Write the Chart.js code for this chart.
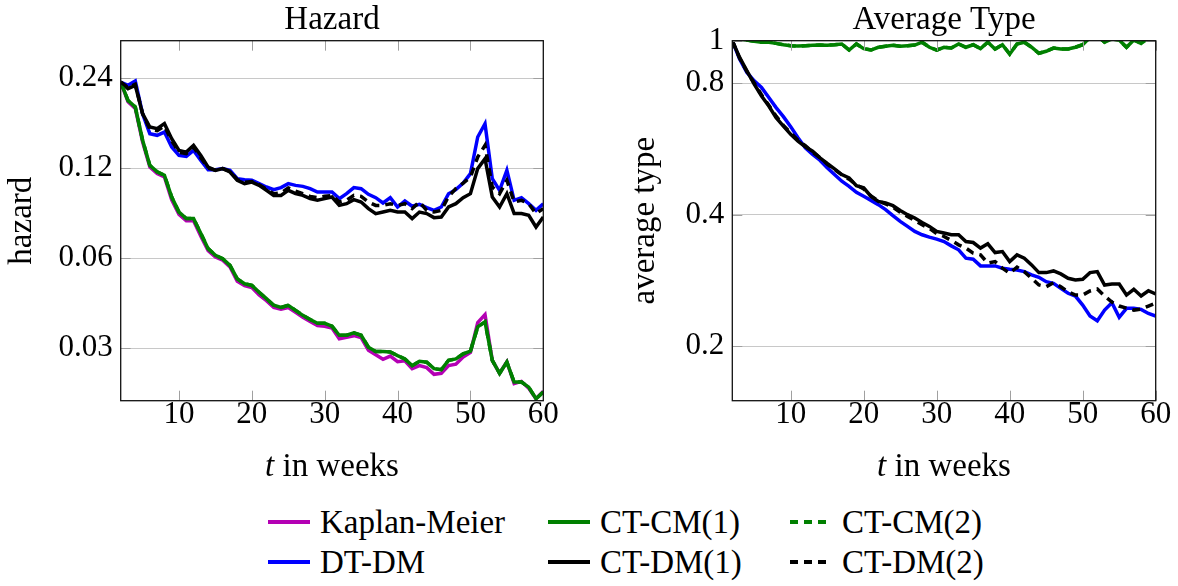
<!DOCTYPE html>
<html>
<head>
<meta charset="utf-8">
<script src="https://cdn.jsdelivr.net/npm/chart.js@4.4.1/dist/chart.umd.min.js"></script>
<style>
  body { margin: 0; background: #fff; }
  #wrap { position: relative; width: 1178px; height: 586px; font-family: 'Liberation Serif', 'DejaVu Serif', serif; color: #000; }
  #hazardChart { position: absolute; left: 0; top: 0; }
  #typeChart { position: absolute; left: 590px; top: 0; }
  #legend { position: absolute; left: 268px; top: 502px; display: grid;
            grid-template-columns: 280px 242px 210px; grid-auto-rows: 40px; font-size: 33px; }
  .item { display: flex; align-items: center; white-space: nowrap; }
  .item svg { margin-right: 10px; }
</style>
</head>
<body>
<div id="wrap">
  <canvas id="hazardChart" width="570" height="490"></canvas>
  <canvas id="typeChart" width="588" height="490"></canvas>
  <div id="legend"></div>
</div>
<script>
// weeks on the x axis
const weeks = [2,3,4,5,6,7,8,9,10,11,12,13,14,15,16,17,18,19,20,21,22,23,24,25,26,27,28,29,30,
  31,32,33,34,35,36,37,38,39,40,41,42,43,44,45,46,47,48,49,50,51,52,53,54,55,56,57,58,59,60];
const xTicks = [10, 20, 30, 40, 50, 60];

// Hazard panel (log scale)
const hazardTicks = [0.03, 0.06, 0.12, 0.24];
const hazardKM = [0.233,0.200,0.190,0.147,0.121,0.115,0.112,0.094,0.0840,0.0800,0.0800,0.0710,0.0635,0.0605,
  0.0590,0.0560,0.0502,0.0485,0.0478,0.0452,0.0432,0.0410,0.0405,0.0410,0.0395,0.0380,0.0368,0.0357,0.0355,
  0.0350,0.0322,0.0326,0.0330,0.0325,0.0295,0.0285,0.0275,0.0282,0.0270,0.0272,0.0256,0.0262,0.0258,0.0245,
  0.0247,0.0262,0.0265,0.0280,0.0290,0.0365,0.0388,0.0273,0.0247,0.0270,0.0228,0.0232,0.0220,0.0203,0.0215];
const hazardDTDM = [0.2327,0.2269,0.2345,0.1824,0.1564,0.1544,0.1583,0.1411,0.1323,0.1313,0.1375,0.1273,0.1185,
  0.1185,0.1195,0.1179,0.1106,0.1097,0.1092,0.1064,0.1037,0.1016,0.1032,0.1064,0.1050,0.1042,0.1024,0.0998,
  0.0998,0.0998,0.0948,0.0985,0.1032,0.1024,0.0980,0.0955,0.0917,0.0955,0.0889,0.0931,0.0894,0.0907,0.0885,
  0.0866,0.0889,0.0985,0.1016,0.1069,0.1149,0.1524,0.1689,0.1106,0.1011,0.1179,0.0936,0.0955,0.0912,0.0866,0.0912];
const hazardCTCM1 = [0.233,0.202,0.192,0.149,0.1225,0.1165,0.1135,0.096,0.0855,0.0813,0.0813,0.0725,0.0645,0.0613,
  0.0597,0.0567,0.0511,0.0492,0.0486,0.0461,0.0439,0.0417,0.0410,0.0417,0.0401,0.0386,0.0374,0.0363,0.0363,
  0.0355,0.0331,0.0331,0.0337,0.0331,0.0302,0.0292,0.0292,0.0291,0.0283,0.0276,0.0262,0.0271,0.0269,0.0256,
  0.0254,0.0273,0.0276,0.0287,0.0293,0.0353,0.0367,0.0273,0.0247,0.0269,0.0231,0.0231,0.0222,0.0203,0.0214];
const hazardCTCM2 = [0.233,0.202,0.192,0.149,0.1225,0.1165,0.1135,0.096,0.0855,0.0813,0.0813,0.0725,0.0645,0.0613,
  0.0597,0.0567,0.0511,0.0492,0.0486,0.0461,0.0439,0.0417,0.0410,0.0417,0.0401,0.0386,0.0374,0.0363,0.0363,
  0.0355,0.0331,0.0331,0.0337,0.0331,0.0302,0.0292,0.0292,0.0291,0.0283,0.0276,0.0262,0.0271,0.0269,0.0256,
  0.0254,0.0273,0.0276,0.0287,0.0293,0.0353,0.0367,0.0273,0.0247,0.0269,0.0231,0.0231,0.0222,0.0203,0.0214];
const hazardCTDM1 = [0.2327,0.2212,0.2269,0.1824,0.1646,0.1626,0.1689,0.1505,0.1375,0.1357,0.1429,0.1323,0.1209,
  0.1179,0.1195,0.1164,0.1092,0.1064,0.1077,0.1050,0.1011,0.0972,0.0972,0.1011,0.0985,0.0972,0.0948,0.0936,
  0.0948,0.0960,0.0900,0.0912,0.0941,0.0924,0.0878,0.0845,0.0855,0.0866,0.0855,0.0855,0.0813,0.0855,0.0845,
  0.0819,0.0823,0.0889,0.0912,0.0955,0.0985,0.1195,0.1290,0.0960,0.0889,0.0985,0.0845,0.0845,0.0834,0.0762,0.0823];
const hazardCTDM2 = [0.2327,0.2230,0.2290,0.1824,0.1620,0.1600,0.1660,0.1480,0.1355,0.1340,0.1410,0.1300,0.1200,
  0.1180,0.1195,0.1170,0.1098,0.1075,0.1082,0.1055,0.1020,0.0985,0.0990,0.1030,0.1005,0.0985,0.0965,0.0955,
  0.0965,0.0972,0.0924,0.0936,0.0972,0.0965,0.0924,0.0900,0.0900,0.0912,0.0900,0.0912,0.0878,0.0924,0.0866,
  0.0855,0.0866,0.0965,0.1024,0.1069,0.1120,0.1306,0.1429,0.1037,0.0985,0.1092,0.0924,0.0936,0.0912,0.0845,0.0878];

// Average type panel (log scale)
const typeTicks = [0.2, 0.4, 0.8, 1];
const typeDTDM = [1.0,0.9077,0.846,0.8093,0.7815,0.7412,0.703,0.6703,0.6358,0.5999,0.5689,0.5491,0.5328,0.5118,
  0.494,0.4768,0.4643,0.4498,0.4404,0.4311,0.4215,0.4105,0.3976,0.3858,0.3758,0.366,0.3596,0.3553,0.3515,
  0.3471,0.3392,0.3322,0.3179,0.3162,0.3052,0.3052,0.3052,0.3015,0.2999,0.2988,0.2962,0.291,0.2875,0.2809,
  0.2785,0.2712,0.2642,0.2604,0.2483,0.2343,0.2285,0.2418,0.2513,0.2327,0.244,0.244,0.2427,0.2376,0.2343];
const typeCTCM1 = [1.004,1.009,1.004,0.997,0.992,0.992,0.986,0.979,0.974,0.972,0.974,0.976,0.977,0.976,0.979,
  0.983,0.952,0.983,0.959,0.952,0.966,0.971,0.976,0.971,0.974,0.977,0.992,0.966,0.952,0.966,0.962,0.983,0.966,
  0.979,0.959,0.992,0.957,0.979,0.932,0.983,0.992,0.966,0.936,0.946,0.962,0.957,0.957,0.966,0.979,1.018,1.027,
  0.992,1.009,1.004,0.966,1.004,0.986,1.014,1.009];
const typeCTCM2 = [1.004,1.009,1.004,0.997,0.992,0.992,0.986,0.979,0.974,0.972,0.974,0.976,0.977,0.976,0.979,
  0.983,0.952,0.983,0.959,0.952,0.966,0.971,0.976,0.971,0.974,0.977,0.992,0.966,0.952,0.966,0.962,0.983,0.966,
  0.979,0.959,0.992,0.957,0.979,0.932,0.983,0.992,0.966,0.936,0.946,0.962,0.957,0.957,0.966,0.979,1.018,1.027,
  0.992,1.009,1.004,0.966,1.004,0.986,1.014,1.009];
const typeCTDM1 = [1.0,0.9159,0.8532,0.7953,0.7475,0.709,0.6668,0.6378,0.6104,0.5891,0.572,0.5588,0.5396,0.5236,
  0.5091,0.494,0.4854,0.466,0.4604,0.4404,0.4289,0.4253,0.4192,0.4089,0.3998,0.3928,0.3838,0.3758,0.366,
  0.3629,0.3596,0.3596,0.3471,0.3452,0.3352,0.3429,0.3275,0.3292,0.3122,0.3235,0.3179,0.3068,0.2946,0.2946,
  0.2972,0.2926,0.286,0.2834,0.2845,0.2946,0.2962,0.276,0.2775,0.2775,0.2618,0.2698,0.2604,0.2678,0.2632];
const typeCTDM2 = [1.0,0.912,0.850,0.800,0.752,0.712,0.672,0.640,0.615,0.592,0.575,0.556,0.540,0.522,0.507,
  0.493,0.482,0.468,0.458,0.441,0.430,0.423,0.416,0.405,0.396,0.388,0.379,0.372,0.362,
  0.3564,0.349,0.341,0.3352,0.3264,0.3235,0.3096,0.3122,0.3015,0.2936,0.3031,0.2962,0.286,0.276,0.2735,
  0.2794,0.2735,0.2664,0.2618,0.2618,0.2674,0.2702,0.2604,0.2522,0.247,0.2444,0.2418,0.2431,0.247,0.2509];

const FONT = "'Liberation Serif', 'DejaVu Serif', serif";
const MAGENTA = '#b400b4', BLUE = '#0000ff', GREEN = '#008000', BLACK = '#000000';

// series definitions (names, colours, dash) shared by both panels
const series = [
  { label: 'Kaplan-Meier', color: MAGENTA, dash: [] },
  { label: 'DT-DM', color: BLUE, dash: [] },
  { label: 'CT-CM(1)', color: GREEN, dash: [] },
  { label: 'CT-DM(1)', color: BLACK, dash: [] },
  { label: 'CT-CM(2)', color: GREEN, dash: [8, 6] },
  { label: 'CT-DM(2)', color: BLACK, dash: [8, 6] }
];

function makeDatasets(dataBySeries) {
  const out = [];
  series.forEach((s, i) => {
    const d = dataBySeries[s.label];
    if (!d) return;
    out.push({
      label: s.label,
      data: d,
      borderColor: s.color,
      borderDash: s.dash,
      borderWidth: 3.5,
      pointRadius: 0,
      tension: 0,
      fill: false,
      clip: 0,
      order: 10 - i // later series drawn on top
    });
  });
  return out;
}

// frame, inward tick marks and the x label with italic t
const framePlugin = {
  id: 'frame',
  afterDraw(chart) {
    const { ctx, chartArea: a, scales: { x, y } } = chart;
    ctx.save();
    ctx.strokeStyle = '#a0a0a0';
    ctx.lineWidth = 1;
    ctx.beginPath();
    x.ticks.forEach(t => {
      const px = Math.round(x.getPixelForValue(t.value)) + 0.5;
      ctx.moveTo(px, a.bottom); ctx.lineTo(px, a.bottom - 10);
      ctx.moveTo(px, a.top); ctx.lineTo(px, a.top + 10);
    });
    y.ticks.forEach(t => {
      const py = Math.round(y.getPixelForValue(t.value)) + 0.5;
      ctx.moveTo(a.left, py); ctx.lineTo(a.left + 10, py);
      ctx.moveTo(a.right, py); ctx.lineTo(a.right - 10, py);
    });
    ctx.stroke();
    ctx.strokeStyle = '#111';
    ctx.lineWidth = 1.3;
    ctx.strokeRect(a.left, a.top, a.right - a.left, a.bottom - a.top);

    const it = 'italic 33px ' + FONT, rm = '33px ' + FONT;
    ctx.fillStyle = '#000';
    ctx.textBaseline = 'alphabetic';
    ctx.font = it; const w1 = ctx.measureText('t').width;
    ctx.font = rm; const w2 = ctx.measureText(' in weeks').width;
    const x0 = (a.left + a.right) / 2 - (w1 + w2) / 2;
    ctx.font = it; ctx.fillText('t', x0, 476);
    ctx.font = rm; ctx.fillText(' in weeks', x0 + w1, 476);
    ctx.restore();
  }
};

function makeOptions(cfg) {
  return {
    responsive: false,
    animation: false,
    layout: { padding: { left: 0, right: cfg.padRight, top: 0, bottom: 0 } },
    plugins: {
      legend: { display: false },
      tooltip: { enabled: false },
      title: {
        display: true, text: cfg.title, fullSize: false, color: '#000',
        font: { family: FONT, size: 33, weight: 'normal' },
        padding: { top: 0.5, bottom: 0.6 }
      }
    },
    scales: {
      x: {
        type: 'linear', min: 2, max: 60,
        grid: { display: false, drawTicks: false },
        border: { display: false },
        afterBuildTicks: s => { s.ticks = xTicks.map(v => ({ value: v })); },
        afterFit: s => { s.height = 89.3; },
        ticks: { color: '#000', padding: -1, maxRotation: 0,
                 font: { family: FONT, size: 31, lineHeight: 1 } }
      },
      y: {
        type: 'logarithmic', min: cfg.yMin, max: cfg.yMax,
        grid: { color: '#c8c8c8', lineWidth: 1, drawTicks: false },
        border: { display: false },
        afterBuildTicks: s => { s.ticks = cfg.yTicks.map(v => ({ value: v })); },
        afterFit: s => { s.width = cfg.yWidth; },
        ticks: { color: '#000', padding: 8, callback: v => String(v),
                 font: { family: FONT, size: 31 } },
        title: { display: true, text: cfg.yTitle, color: '#000',
                 font: { family: FONT, size: 33 }, padding: { top: cfg.yTitlePad, bottom: 0 } }
      }
    }
  };
}

new Chart(document.getElementById('hazardChart'), {
  type: 'line',
  data: {
    labels: weeks,
    datasets: makeDatasets({
      'Kaplan-Meier': hazardKM, 'DT-DM': hazardDTDM, 'CT-CM(1)': hazardCTCM1,
      'CT-DM(1)': hazardCTDM1, 'CT-CM(2)': hazardCTCM2, 'CT-DM(2)': hazardCTDM2
    })
  },
  options: makeOptions({ title: 'Hazard', yMin: 0.02, yMax: 0.32, yTicks: hazardTicks,
                         yTitle: 'hazard', yTitlePad: 2.2, yWidth: 120.7, padRight: 26.7 }),
  plugins: [framePlugin]
});

new Chart(document.getElementById('typeChart'), {
  type: 'line',
  data: {
    labels: weeks,
    datasets: makeDatasets({
      'DT-DM': typeDTDM, 'CT-CM(1)': typeCTCM1, 'CT-DM(1)': typeCTDM1,
      'CT-CM(2)': typeCTCM2, 'CT-DM(2)': typeCTDM2
    })
  },
  options: makeOptions({ title: 'Average Type', yMin: 0.15, yMax: 1, yTicks: typeTicks,
                         yTitle: 'average type', yTitlePad: 35.2, yWidth: 142.3, padRight: 22.3 }),
  plugins: [framePlugin]
});

// legend: three columns, filled row by row
const legendOrder = ['Kaplan-Meier', 'CT-CM(1)', 'CT-CM(2)', 'DT-DM', 'CT-DM(1)', 'CT-DM(2)'];
const legendEl = document.getElementById('legend');
legendOrder.forEach(name => {
  const s = series.find(d => d.label === name);
  const item = document.createElement('div');
  item.className = 'item';
  item.innerHTML = `<svg width="42" height="10"><line x1="0" y1="5" x2="42" y2="5" stroke="${s.color}"
     stroke-width="4" stroke-dasharray="${s.dash.length ? s.dash.join(',') : 'none'}"/></svg><span>${s.label}</span>`;
  legendEl.appendChild(item);
});
</script>
</body>
</html>
